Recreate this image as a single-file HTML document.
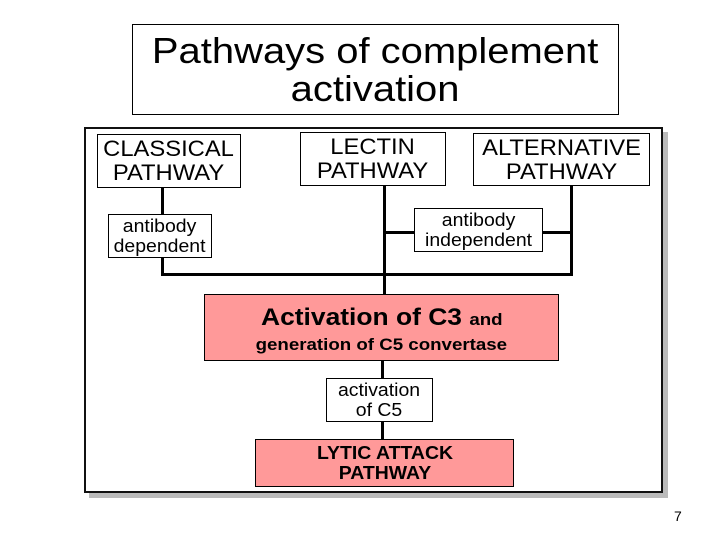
<!DOCTYPE html>
<html><head><style>
body{margin:0;width:720px;height:540px;background:#fff;position:relative;overflow:hidden;font-family:"Liberation Sans",sans-serif}
.b{position:absolute;box-sizing:border-box;border:1px solid #000;background:#fff;display:flex;align-items:center;justify-content:center;text-align:center;line-height:1}
.b>span{display:inline-block;transform:scaleX(1.08);white-space:nowrap}
.l{position:absolute;background:#000}
.p{background:#f99}
</style></head><body>
<div class="b" style="left:132px;top:24px;width:487px;height:91px;font-size:36px;line-height:38px"><span style="transform:scaleX(1.11)">Pathways of complement<br>activation</span></div>
<div style="position:absolute;left:89px;top:132px;width:579px;height:366px;background:#bbb"></div>
<div style="position:absolute;left:84px;top:127px;width:579px;height:366px;box-sizing:border-box;border:2px solid #111;background:#fff"></div>
<div class="l" style="left:161px;top:188px;width:3px;height:87px"></div>
<div class="l" style="left:161px;top:273px;width:412px;height:3px"></div>
<div class="l" style="left:383px;top:186px;width:3px;height:108px"></div>
<div class="l" style="left:570px;top:186px;width:3px;height:90px"></div>
<div class="l" style="left:384px;top:231px;width:187px;height:3px"></div>
<div class="l" style="left:381px;top:361px;width:3px;height:78px"></div>
<div class="b" style="left:97px;top:134px;width:144px;height:54px;font-size:22px;line-height:24px"><span>CLASSICAL<br>PATHWAY</span></div>
<div class="b" style="left:300px;top:132px;width:146px;height:54px;font-size:22px;line-height:24px"><span>LECTIN<br>PATHWAY</span></div>
<div class="b" style="left:473px;top:133px;width:177px;height:53px;font-size:22px;line-height:24px"><span>ALTERNATIVE<br>PATHWAY</span></div>
<div class="b" style="left:108px;top:214px;width:104px;height:44px;font-size:18px;line-height:20px"><span>antibody<br>dependent</span></div>
<div class="b" style="left:414px;top:208px;width:129px;height:44px;font-size:18px;line-height:20px"><span>antibody<br>independent</span></div>
<div class="b p" style="left:204px;top:294px;width:355px;height:67px;font-weight:bold;flex-direction:column"><div style="font-size:24px;margin-top:4px;transform:scaleX(1.1)">Activation of C3 <span style="font-size:17px">and</span></div><div style="font-size:17px;margin-top:6px;transform:scaleX(1.1)">generation of C5 convertase</div></div>
<div class="b" style="left:326px;top:378px;width:107px;height:44px;font-size:18px;line-height:20px"><span>activation<br>of C5</span></div>
<div class="b p" style="left:255px;top:439px;width:259px;height:48px;font-size:18px;line-height:20px;font-weight:bold"><span>LYTIC ATTACK<br>PATHWAY</span></div>
<div style="position:absolute;left:674px;top:508px;font-size:14px">7</div>
</body></html>
